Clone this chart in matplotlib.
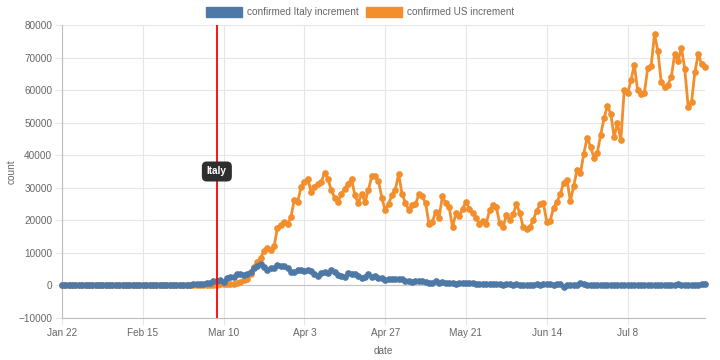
import numpy as np
import pandas as pd
import matplotlib
matplotlib.use('Agg')
import matplotlib.pyplot as plt
import matplotlib.transforms as mtransforms
from matplotlib.patches import Patch

plt.rcParams['font.family'] = ['Liberation Sans', 'DejaVu Sans']

dates = pd.date_range('2020-01-22', '2020-07-31')

# daily new confirmed cases, Italy
italy = [0, 0, 0, 0, 0, 0, 0, 0, 0, 2,
         0, 0, 0, 0, 0, 0, 1, 0, 0, 0,
         0, 0, 0, 0, 0, 0, 0, 0, 0, 0,
         17, 42, 93, 74, 93, 131, 202, 233, 240, 566,
         342, 466, 587, 769, 778, 1247, 1492, 1797, 977, 2313,
         2651, 2547, 3497, 3590, 3233, 3526, 4207, 5322, 5986, 6557,
         5560, 4789, 5249, 5210, 6203, 5909, 5974, 5217, 4050, 4053,
         4782, 4668, 4585, 4805, 4316, 3599, 3039, 3836, 4204, 3951,
         4694, 4092, 3153, 2972, 2667, 3786, 3493, 3491, 3047, 2256,
         2729, 3370, 2646, 3021, 2357, 2324, 1739, 2091, 2086, 1872,
         1965, 1900, 1389, 1221, 1075, 1444, 1401, 1327, 1083, 802,
         744, 1402, 888, 992, 789, 875, 675, 451, 813, 665,
         642, 652, 669, 531, 300, 397, 584, 593, 516, 416,
         355, 178, 318, 321, 177, 518, 270, 197, 280, 283,
         202, 379, 163, 346, 338, 301, 210, 329, 333, -400,
         262, 224, 218, 122, 750, 296, 259, 175, 174, 126,
         142, 187, 201, 223, 235, 192, 208, 138, 193, 229,
         276, 188, 234, 169, 114, 162, 230, 233, 249, 219,
         190, 129, 282, 306, 252, 275, 255, 170, 212, 289,
         386, 379]

# daily new confirmed cases, US
us = [1, 0, 1, 0, 3, 0, 0, 0, 1, 1,
      1, 0, 3, 0, 0, 0, 0, 0, 0, 1,
      0, 0, 0, 0, 0, 0, 0, 0, 0, 0,
      2, 0, 0, 18, 4, 6, 1, 3, 8, 23,
      20, 31, 68, 45, 140, 116, 65, 376, 322, 382,
      516, 548, 772, 1133, 1789, 2000, 3600, 5600, 7200, 8500,
      10500, 11500, 10800, 12000, 17700, 18500, 19500, 18800, 21000, 26200,
      25600, 30200, 31800, 32800, 28700, 30200, 31300, 31800, 34600, 32800,
      29200, 27000, 25600, 28200, 29700, 31300, 32800, 27700, 25300, 28200,
      25600, 29200, 33500, 33500, 32100, 27000, 23100, 25100, 27700, 29400,
      34200, 28200, 25300, 23300, 24600, 24900, 28000, 27400, 25300, 19000,
      19500, 22600, 20800, 27400, 25300, 24100, 17900, 22100, 21200, 23600,
      25600, 23600, 22100, 20800, 19000, 19800, 19000, 23100, 24600, 24100,
      19200, 17900, 21500, 20200, 21800, 25100, 22100, 17900, 17400, 17900,
      20200, 22900, 24900, 25300, 19500, 19800, 23800, 25600, 28000, 31500,
      32500, 25900, 30500, 35600, 34400, 40500, 45400, 42600, 39300, 40700,
      46200, 51300, 55100, 52800, 45600, 49900, 44600, 60000, 59000, 63000,
      67700, 60000, 58700, 59200, 66900, 67500, 77200, 72000, 62400, 61000,
      61700, 64100, 71100, 68900, 73000, 66400, 54900, 56200, 65600, 71100,
      67900, 67000]

tick_dates = ['2020-01-22', '2020-02-15', '2020-03-10', '2020-04-03',
              '2020-04-27', '2020-05-21', '2020-06-14', '2020-07-08']
tick_labels = ['Jan 22', 'Feb 15', 'Mar 10', 'Apr 3', 'Apr 27', 'May 21', 'Jun 14', 'Jul 8']
marker_date = '2020-03-08'
marker_text = 'Italy'

blue = '#4e79a7'
orange = '#f28e2b'
grid = '#e6e6e6'
txt = '#666666'

fig = plt.figure(figsize=(7.2, 3.6), dpi=100)
ax = fig.add_axes([62/720, 1-318/360, (705-62)/720, (318-25)/360])

ax.plot(dates, us, color=orange, lw=2.0, marker='o', ms=3.8, mec=orange, mfc=orange,
        zorder=3, clip_on=False)
ax.plot(dates, italy, color=blue, lw=2.0, marker='o', ms=3.8, mec=blue, mfc=blue,
        zorder=4, clip_on=False)

ax.set_xlim(dates[0], dates[-1])
ax.set_ylim(-10000, 80000)
ax.set_yticks(np.arange(-10000, 80001, 10000))
ax.set_xticks(pd.to_datetime(tick_dates))
ax.set_xticklabels(tick_labels)

ax.grid(True, color=grid, lw=0.8, zorder=0)
ax.axhline(0, color='#c4c4c4', lw=0.8, zorder=1)
for s in ['top', 'right']:
    ax.spines[s].set_visible(False)
for s in ['left', 'bottom']:
    ax.spines[s].set_color('#bdbdbd')
    ax.spines[s].set_linewidth(0.8)
ax.tick_params(axis='both', length=5, width=0.8, color=grid, labelcolor=txt,
               labelsize=7.2, pad=2)
ax.set_axisbelow(True)

ax.set_xlabel('date', color=txt, fontsize=7.2, labelpad=6)
ax.set_ylabel('count', color=txt, fontsize=7.2, labelpad=1)

# annotation line with label
md = pd.Timestamp(marker_date)
ax.axvline(md, color='red', lw=1.3, zorder=5)
trans = mtransforms.blended_transform_factory(ax.transData, ax.transAxes)
ax.text(md, 0.5, marker_text, transform=trans, ha='center', va='center',
        color='white', fontsize=7.2, fontweight='bold', zorder=6,
        bbox=dict(boxstyle='round,pad=0.5,rounding_size=0.5', fc='#2e2e2e', ec='none'))

handles = [Patch(facecolor=blue, edgecolor=blue), Patch(facecolor=orange, edgecolor=orange)]
fig.legend(handles, ['confirmed Italy increment', 'confirmed US increment'],
           loc='center', bbox_to_anchor=(0.5, 1-12/360), ncol=2, frameon=False,
           fontsize=7.2, labelcolor=txt, handlelength=3.6, handleheight=1.2,
           handletextpad=0.5, columnspacing=0.7, borderpad=0)

fig.savefig('out.png', dpi=100)
